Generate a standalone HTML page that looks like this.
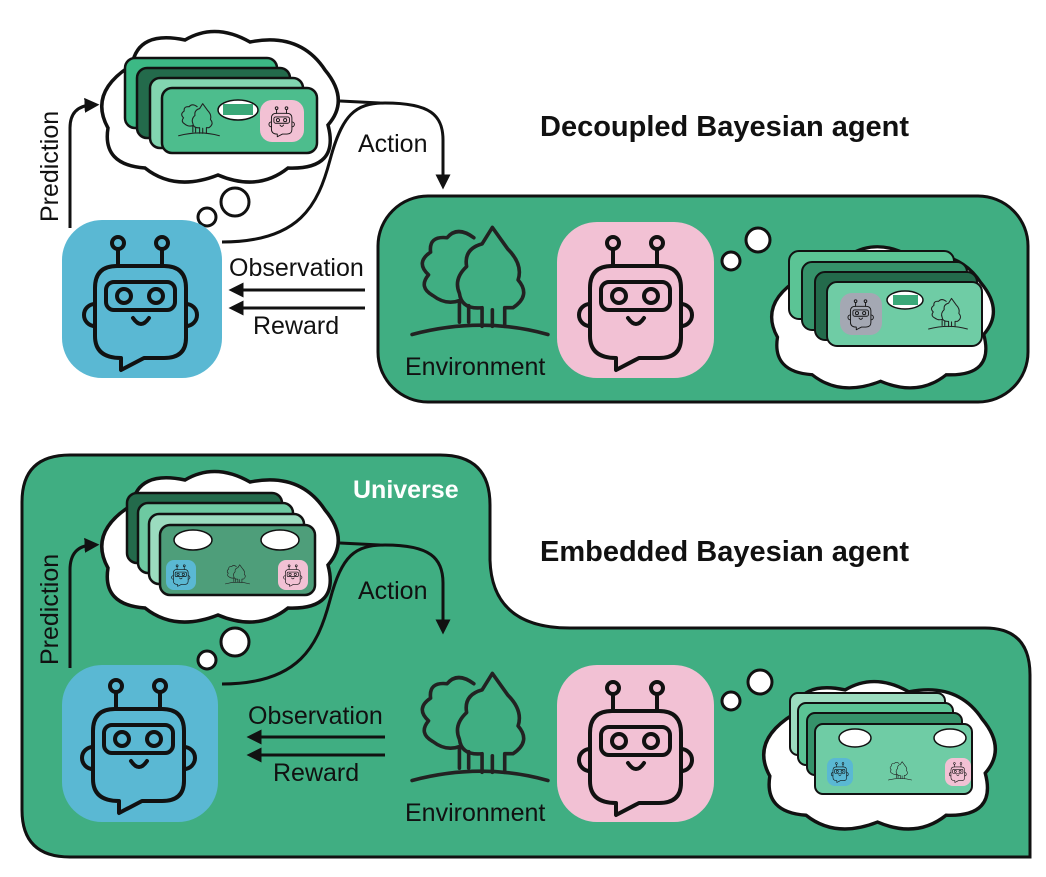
<!DOCTYPE html>
<html><head><meta charset="utf-8"><style>
html,body{margin:0;padding:0;background:#fff;}
svg{display:block;}
text{font-family:"Liberation Sans",sans-serif;}
</style></head><body>
<svg width="1046" height="877" viewBox="0 0 1046 877" xmlns="http://www.w3.org/2000/svg">
<defs>
<symbol id="rob" viewBox="0 0 160 160" overflow="visible">
  <g fill="none" stroke="#111" stroke-width="4" stroke-linejoin="round" stroke-linecap="round">
    <line x1="56" y1="29" x2="56" y2="46"/><line x1="100" y1="29" x2="100" y2="46"/>
    <circle cx="56" cy="23" r="6"/><circle cx="100" cy="23" r="6"/>
    <path d="M33,84 a10,10 0 0 0 0,22"/><path d="M124,84 a10,10 0 0 1 0,22"/>
    <path d="M55,46 H102 Q124,46 124,68 V118 Q124,138 102,138 H82 L59,150 V138 Q33,138 33,116 V68 Q33,46 55,46 Z"/>
    <rect x="44" y="62" width="69" height="28" rx="8"/>
    <circle cx="62" cy="76" r="7"/><circle cx="94" cy="76" r="7"/>
    <path d="M71,98 Q79,110 87,98"/>
  </g>
</symbol>
<symbol id="tree" viewBox="0 2 136 110" overflow="visible">
  <g fill="none" stroke="#222" stroke-width="3.5" stroke-linejoin="round" stroke-linecap="round">
    <path d="M48,96 V75 Q35,80 22,70 Q8,62 18,50 Q5,38 20,28 Q18,12 36,14 Q46,2 62,14"/>
    <path d="M57,96 V80"/>
    <path d="M70,100 V82 Q50,84 48,68 Q42,54 55,42 Q52,25 70,20 L80,4 L95,25 Q110,40 105,55 Q118,70 100,82 L92,82 V100"/>
    <path d="M80,100 V84"/>
    <path d="M2,108 Q70,90 134,108"/>
  </g>
</symbol>
<symbol id="cloud" viewBox="0 0 240 155" overflow="visible">
  <path d="M32,35 Q38,0 85,10 Q115,-8 150,12 Q200,2 225,40 Q250,70 228,95 Q240,140 188,138 Q158,162 118,145 Q75,162 45,138 Q2,135 8,98 Q-12,62 32,35 Z" fill="#fff" stroke="#111" stroke-width="3.5"/>
</symbol>
<marker id="ah" viewBox="0 0 10 10" refX="5" refY="5" markerWidth="5" markerHeight="5" orient="auto"><path d="M0,0 L10,5 L0,10 Z" fill="#111"/></marker>
</defs>

<!-- ===== TOP ===== -->
<use href="#cloud" x="100" y="30" width="240" height="155"/>
<circle cx="207" cy="217" r="9" fill="#fff" stroke="#111" stroke-width="3"/>
<circle cx="235" cy="202" r="14" fill="#fff" stroke="#111" stroke-width="3"/>
<g stroke="#111" stroke-width="2.5">
<rect x="125" y="58" width="152" height="70" rx="10" fill="#3cb985"/>
<rect x="137" y="68" width="153" height="70" rx="10" fill="#236a4b"/>
<rect x="150" y="78" width="153" height="70" rx="10" fill="#82d5b0"/>
<rect x="162" y="88" width="155" height="65" rx="10" fill="#4dbd8d"/>
</g>
<use href="#tree" x="178" y="100" width="42" height="40"/>
<ellipse cx="238" cy="110" rx="20" ry="10" fill="#fff" stroke="#111" stroke-width="1.5"/>
<rect x="223" y="104" width="30" height="11" fill="#3aa878"/>
<rect x="260" y="100" width="44" height="42" rx="12" fill="#f2c1d4"/>
<use href="#rob" x="264" y="103" width="36" height="36"/>

<rect x="62" y="220" width="160" height="158" rx="40" fill="#5ab8d3"/>
<use href="#rob" x="62" y="220" width="160" height="160"/>

<g fill="none" stroke="#111" stroke-width="3">
<path d="M70,228 V128 Q70,106 92,105" marker-end="url(#ah)"/>
<path d="M222,242 C300,242 318,205 330,160 C342,115 355,103 385,103 C430,103 443,115 443,140 V182" marker-end="url(#ah)"/>
<path d="M340,101 L380,103"/>
<path d="M365,290 H236" marker-end="url(#ah)"/>
<path d="M365,308 H236" marker-end="url(#ah)"/>
</g>
<text x="58" y="222" font-size="25" transform="rotate(-90 58 222)" fill="#111">Prediction</text>
<text x="358" y="152" font-size="25" fill="#111">Action</text>
<text x="229" y="276" font-size="25" fill="#111">Observation</text>
<text x="253" y="334" font-size="25" fill="#111">Reward</text>
<text x="540" y="136" font-size="29" font-weight="bold" fill="#111">Decoupled Bayesian agent</text>

<rect x="378" y="196" width="650" height="206" rx="50" fill="#40ae82" stroke="#111" stroke-width="3"/>
<use href="#tree" x="410" y="222" width="140" height="120"/>
<text x="405" y="375" font-size="25" fill="#111">Environment</text>
<rect x="557" y="222" width="157" height="156" rx="40" fill="#f2c1d4"/>
<use href="#rob" x="557" y="220" width="160" height="160"/>
<circle cx="731" cy="261" r="9" fill="#fff" stroke="#111" stroke-width="3"/>
<circle cx="758" cy="240" r="12" fill="#fff" stroke="#111" stroke-width="3"/>
<use href="#cloud" x="770" y="238" width="225" height="160"/>
<g stroke="#111" stroke-width="2">
<rect x="789" y="251" width="165" height="68" rx="10" fill="#5bc495"/>
<rect x="802" y="262" width="165" height="68" rx="10" fill="#35926a"/>
<rect x="815" y="272" width="162" height="68" rx="10" fill="#236a4b"/>
<rect x="827" y="282" width="155" height="64" rx="10" fill="#6fcca5"/>
</g>
<rect x="840" y="293" width="42" height="42" rx="12" fill="#a4a8b3"/>
<use href="#rob" x="843" y="296" width="36" height="36"/>
<ellipse cx="905" cy="300" rx="18" ry="9" fill="#fff" stroke="#111" stroke-width="1.5"/>
<rect x="893" y="295" width="25" height="10" fill="#3aa878"/>
<use href="#tree" x="928" y="294" width="40" height="40"/>

<!-- ===== BOTTOM ===== -->
<path d="M70,455 H440 Q490,455 490,505 V560 Q492,628 570,628 H985 Q1030,628 1030,675 V857 H70 Q22,857 22,810 V502 Q22,455 70,455 Z" fill="#40ae82" stroke="#111" stroke-width="3"/>
<text x="353" y="498" font-size="25" font-weight="bold" fill="#fff">Universe</text>
<text x="540" y="561" font-size="29" font-weight="bold" fill="#111">Embedded Bayesian agent</text>

<use href="#cloud" x="100" y="470" width="240" height="155"/>
<circle cx="207" cy="660" r="9" fill="#fff" stroke="#111" stroke-width="3"/>
<circle cx="235" cy="642" r="14" fill="#fff" stroke="#111" stroke-width="3"/>
<g stroke="#111" stroke-width="2.5">
<rect x="127" y="493" width="155" height="70" rx="10" fill="#236a4b"/>
<rect x="138" y="503" width="155" height="70" rx="10" fill="#6dc9a1"/>
<rect x="149" y="514" width="155" height="70" rx="10" fill="#9bdcbf"/>
<rect x="160" y="525" width="155" height="70" rx="10" fill="#4e9e7a"/>
</g>
<ellipse cx="193" cy="540" rx="19" ry="10" fill="#fff" stroke="#111" stroke-width="1.5"/>
<ellipse cx="280" cy="540" rx="19" ry="10" fill="#fff" stroke="#111" stroke-width="1.5"/>
<rect x="166" y="560" width="30" height="30" rx="8" fill="#5ab8d3"/>
<rect x="278" y="560" width="30" height="30" rx="8" fill="#f2c1d4"/>
<use href="#rob" x="168" y="562" width="26" height="26"/>
<use href="#rob" x="280" y="562" width="26" height="26"/>
<use href="#tree" x="225" y="563" width="25" height="23"/>

<rect x="62" y="665" width="156" height="157" rx="40" fill="#5ab8d3"/>
<use href="#rob" x="60" y="663" width="160" height="160"/>

<g fill="none" stroke="#111" stroke-width="3">
<path d="M70,668 V570 Q70,546 92,545" marker-end="url(#ah)"/>
<path d="M222,684 C300,684 318,645 330,600 C342,555 355,545 385,545 C430,545 443,558 443,583 V627" marker-end="url(#ah)"/>
<path d="M340,543 L380,545"/>
<path d="M385,737 H254" marker-end="url(#ah)"/>
<path d="M385,755 H254" marker-end="url(#ah)"/>
</g>
<text x="58" y="665" font-size="25" transform="rotate(-90 58 665)" fill="#111">Prediction</text>
<text x="358" y="599" font-size="25" fill="#111">Action</text>
<text x="248" y="724" font-size="25" fill="#111">Observation</text>
<text x="273" y="781" font-size="25" fill="#111">Reward</text>

<use href="#tree" x="410" y="668" width="140" height="120"/>
<text x="405" y="821" font-size="25" fill="#111">Environment</text>
<rect x="557" y="665" width="157" height="157" rx="40" fill="#f2c1d4"/>
<use href="#rob" x="557" y="665" width="160" height="160"/>
<circle cx="731" cy="701" r="9" fill="#fff" stroke="#111" stroke-width="3"/>
<circle cx="760" cy="682" r="12" fill="#fff" stroke="#111" stroke-width="3"/>
<use href="#cloud" x="762" y="670" width="235" height="172"/>
<g stroke="#111" stroke-width="2">
<rect x="790" y="693" width="155" height="62" rx="8" fill="#9bdcbf"/>
<rect x="798" y="703" width="155" height="62" rx="8" fill="#5bc495"/>
<rect x="807" y="713" width="155" height="62" rx="8" fill="#35926a"/>
<rect x="815" y="724" width="157" height="70" rx="8" fill="#6fcca5"/>
</g>
<ellipse cx="855" cy="738" rx="16" ry="9" fill="#fff" stroke="#111" stroke-width="1.5"/>
<ellipse cx="950" cy="738" rx="16" ry="9" fill="#fff" stroke="#111" stroke-width="1.5"/>
<rect x="827" y="758" width="26" height="28" rx="8" fill="#5ab8d3"/>
<rect x="945" y="758" width="26" height="28" rx="8" fill="#f2c1d4"/>
<use href="#rob" x="828" y="760" width="24" height="24"/>
<use href="#rob" x="946" y="760" width="24" height="24"/>
<use href="#tree" x="888" y="760" width="24" height="22"/>
</svg>
</body></html>
